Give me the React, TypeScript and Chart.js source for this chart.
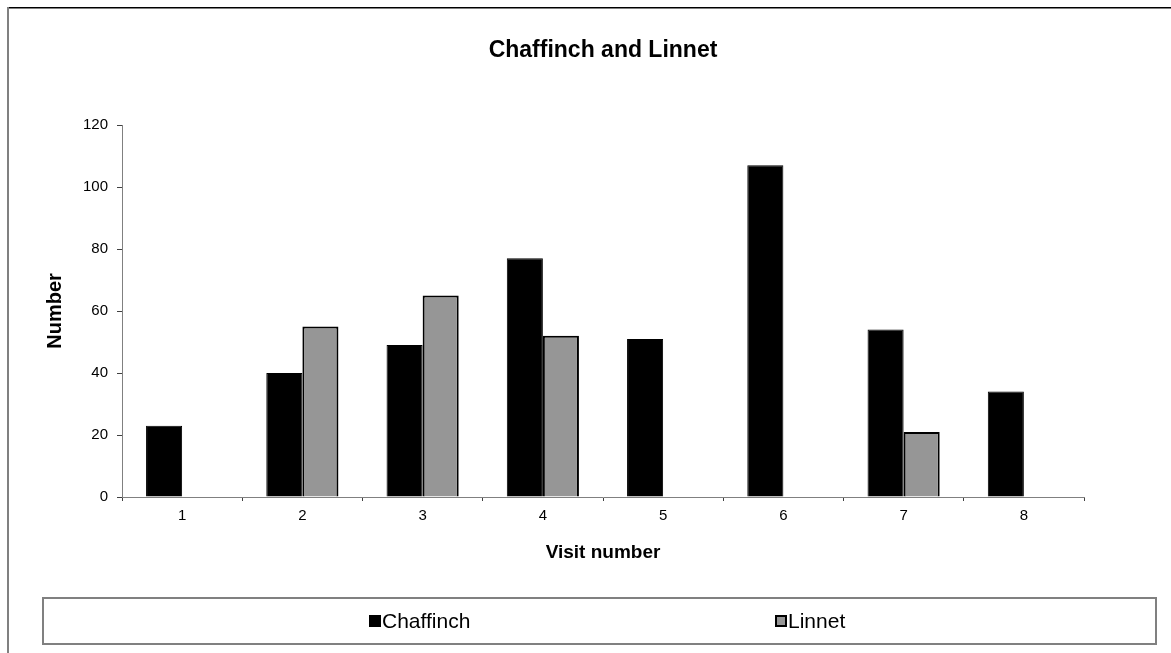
import React, { useEffect, useRef } from 'react';
import { Chart, registerables } from 'chart.js';

Chart.register(...registerables);

const categories = ['1', '2', '3', '4', '5', '6', '7', '8'];
const chaffinch = [23, 40, 49, 77, 51, 107, 54, 34];
const linnet = [null, 55, 65, 52, null, null, 21, null];
const yMin = 0;
const yMax = 120;
const yStep = 20;
const titleText = 'Chaffinch and Linnet';
const xTitle = 'Visit number';
const yTitle = 'Number';

const FONT = '"Liberation Sans", Arial, Helvetica, sans-serif';

const framePlugin = {
  id: 'frame',
  beforeDraw(chart: any) {
    const ctx = chart.ctx;
    ctx.save();
    ctx.fillStyle = '#ffffff';
    ctx.fillRect(0, 0, chart.width, chart.height);
    ctx.fillStyle = '#000000';
    ctx.fillRect(7, 7, chart.width - 7, 1.5);
    ctx.fillStyle = '#808080';
    ctx.fillRect(7, 7, 2, chart.height - 7);
    ctx.restore();
  },
};

const boxLegendPlugin = {
  id: 'boxLegend',
  afterDraw(chart: any) {
    const ctx = chart.ctx;
    ctx.save();
    ctx.strokeStyle = '#808080';
    ctx.lineWidth = 2;
    ctx.strokeRect(43, 598, 1113, 46);
    const itemX = [369, 775];
    const cy = 621;
    chart.data.datasets.forEach((d: any, i: number) => {
      const x = itemX[i];
      ctx.fillStyle = d.backgroundColor;
      ctx.fillRect(x, cy - 6, 12, 12);
      if (d.borderWidth > 1) {
        ctx.strokeStyle = '#000';
        ctx.lineWidth = 2;
        ctx.strokeRect(x + 1, cy - 5, 10, 10);
      }
      ctx.fillStyle = '#000';
      ctx.font = `21px ${FONT}`;
      ctx.textBaseline = 'middle';
      ctx.textAlign = 'left';
      ctx.fillText(d.label, x + 13, cy + 1);
    });
    ctx.restore();
  },
};

export default function App() {
  const canvasRef = useRef<HTMLCanvasElement | null>(null);

  useEffect(() => {
    if (!canvasRef.current) return;
    const chart = new Chart(canvasRef.current, {
      type: 'bar',
      data: {
        labels: categories,
        datasets: [
          {
            label: 'Chaffinch',
            data: chaffinch,
            backgroundColor: '#000000',
            borderColor: '#000000',
            borderWidth: 1,
            categoryPercentage: 0.6,
            barPercentage: 1.0,
          },
          {
            label: 'Linnet',
            data: linnet as any,
            backgroundColor: '#969696',
            borderColor: '#000000',
            borderWidth: 2,
            categoryPercentage: 0.6,
            barPercentage: 1.0,
          },
        ],
      },
      options: {
        animation: false,
        responsive: true,
        maintainAspectRatio: false,
        layout: { padding: { left: 0, right: 87, top: 0, bottom: 73 } },
        plugins: {
          legend: { display: false },
          tooltip: { enabled: false },
          title: {
            display: true,
            text: titleText,
            fullSize: false,
            color: '#000',
            font: { family: FONT, size: 23, weight: 'bold' },
            padding: { top: 37, bottom: 60.4 },
          },
        },
        scales: {
          x: {
            grid: {
              display: true,
              drawOnChartArea: false,
              offset: true,
              tickLength: 4,
              color: '#404040',
            },
            border: { display: true, color: '#808080', width: 1 },
            ticks: { color: '#000', font: { family: FONT, size: 15 }, padding: 6 },
            title: {
              display: true,
              text: xTitle,
              color: '#000',
              font: { family: FONT, size: 19, weight: 'bold' },
              padding: { top: 0, bottom: 15.6 },
            },
            afterFit: (s: any) => {
              s.height = 83;
            },
          },
          y: {
            min: yMin,
            max: yMax,
            grid: { display: true, drawOnChartArea: false, tickLength: 5, color: '#404040' },
            border: { display: true, color: '#808080', width: 1 },
            ticks: { stepSize: yStep, color: '#000', font: { family: FONT, size: 15 }, padding: 9 },
            title: {
              display: true,
              text: yTitle,
              color: '#000',
              font: { family: FONT, size: 20, weight: 'bold' },
              padding: { top: 43, bottom: 0 },
            },
            afterFit: (s: any) => {
              s.width = 122;
            },
          },
        },
      },
      plugins: [framePlugin, boxLegendPlugin],
    });
    return () => chart.destroy();
  }, []);

  return (
    <div style={{ position: 'fixed', left: 0, top: 0, width: 1171, height: 653 }}>
      <canvas ref={canvasRef} />
    </div>
  );
}
